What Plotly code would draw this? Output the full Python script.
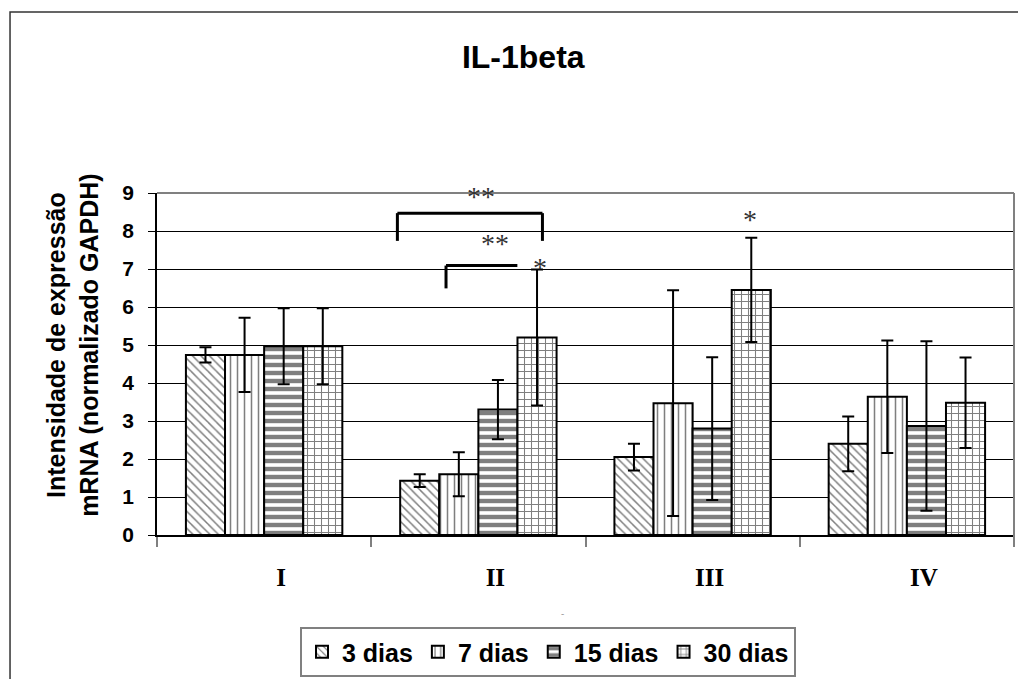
import plotly.graph_objects as go

categories = ["I", "II", "III", "IV"]
series_names = ["3 dias", "7 dias", "15 dias", "30 dias"]
values = [
    [4.74, 1.43, 2.05, 2.40],   # 3 dias
    [4.74, 1.60, 3.47, 3.64],   # 7 dias
    [4.97, 3.30, 2.80, 2.87],   # 15 dias
    [4.97, 5.20, 6.45, 3.48],   # 30 dias
]
errors = [
    [0.20, 0.17, 0.35, 0.72],
    [0.98, 0.58, 2.97, 1.48],
    [1.00, 0.78, 1.88, 2.23],
    [1.00, 1.79, 1.37, 1.19],
]
patterns = ["\\", "|", "-", "+"]
pattern_sizes = [6, 7, 8, 7]
pattern_solidity = [0.25, 0.22, 0.55, 0.28]

# significance markers (x as category index, y in data units)
star_texts = ["**", "**", "*", "*"]
star_x = [1.014, 1.079, 1.289, 2.266]
star_y = [8.91, 7.67, 7.04, 8.30]

# brackets: list of polylines (x index, y value)
brackets = [
    [(0.622, 7.74), (0.622, 8.47), (1.299, 8.47), (1.299, 7.74)],
    [(0.849, 6.49), (0.849, 7.09), (1.182, 7.09)],
]

fig = go.Figure()
for i, name in enumerate(series_names):
    fig.add_trace(go.Bar(
        name=name,
        x=categories,
        y=values[i],
        error_y=dict(type="data", array=errors[i], visible=True,
                     color="black", thickness=2, width=6),
        marker=dict(
            color="white",
            line=dict(color="black", width=2),
            pattern=dict(shape=patterns[i], size=pattern_sizes[i],
                         solidity=pattern_solidity[i],
                         fgcolor="black", bgcolor="white"),
        ),
    ))

shapes = []
for br in brackets:
    for (xa, ya), (xb, yb) in zip(br[:-1], br[1:]):
        shapes.append(dict(type="line", xref="x", yref="y",
                           x0=xa, y0=ya, x1=xb, y1=yb,
                           line=dict(color="black", width=3)))
# gray plot-area border top and right
shapes.append(dict(type="line", xref="paper", yref="paper", x0=0, y0=1, x1=1, y1=1,
                   line=dict(color="#808080", width=2)))
shapes.append(dict(type="line", xref="paper", yref="paper", x0=1, y0=-0.025, x1=1, y1=1,
                   line=dict(color="#808080", width=2)))
# outer chart frame
shapes.append(dict(type="rect", xref="paper", yref="paper",
                   x0=-0.1715, y0=-0.6, x1=1.1, y1=1.529,
                   line=dict(color="#333333", width=1.5)))

annotations = []
for t, xx, yy in zip(star_texts, star_x, star_y):
    annotations.append(dict(text=t, x=xx, y=yy, xref="x", yref="y", showarrow=False,
                            xanchor="center", yanchor="middle",
                            font=dict(family="Times New Roman, Liberation Serif, serif",
                                      size=28, color="#333333")))
annotations.append(dict(text="Intensidade de expressão<br>mRNA (normalizado GAPDH)",
                        x=-0.098, y=0.556, xref="paper", yref="paper", showarrow=False,
                        textangle=-90, xanchor="center", yanchor="middle",
                        font=dict(family="Arial, Liberation Sans, sans-serif",
                                  size=25, color="black", weight="bold")))
annotations.append(dict(text="-", x=0.473, y=-0.255, xref="paper", yref="paper",
                        showarrow=False, font=dict(size=10, color="#999999")))

fig.update_layout(
    width=1018, height=679,
    margin=dict(l=157, r=4, t=193, b=144, autoexpand=False),
    paper_bgcolor="white", plot_bgcolor="white",
    barmode="group", bargap=0.27, bargroupgap=0,
    title=dict(text="IL-1beta", x=0.514, xref="container", y=1 - 57 / 679,
               yref="container", xanchor="center", yanchor="middle",
               font=dict(family="Arial, Liberation Sans, sans-serif", size=32,
                         color="black", weight="bold")),
    xaxis=dict(
        showline=True, linecolor="black", linewidth=1.5,
        ticks="outside", tickson="boundaries", ticklen=10, tickcolor="#808080",
        tickwidth=1.5, showgrid=False,
        ticklabelshift=17, ticklabelstandoff=19,
        tickfont=dict(family="Times New Roman, Liberation Serif, serif", size=25,
                      color="black", weight="bold"),
    ),
    yaxis=dict(
        range=[0, 9], dtick=1, showline=True, linecolor="black", linewidth=1.5,
        ticks="outside", ticklen=7, tickcolor="black",
        showgrid=True, gridcolor="black", gridwidth=1, zeroline=False,
        ticklabelstandoff=10,
        tickfont=dict(family="Arial, Liberation Sans, sans-serif", size=21,
                      color="black", weight="bold"),
    ),
    legend=dict(orientation="h", x=300 / 1018, y=1 - 627 / 679,
                xref="container", yref="container",
                xanchor="left", yanchor="top",
                bordercolor="#808080", borderwidth=2, bgcolor="white",
                tracegroupgap=0, itemwidth=30,
                font=dict(family="Arial, Liberation Sans, sans-serif", size=25,
                          color="black", weight="bold")),
    shapes=shapes,
    annotations=annotations,
    showlegend=True,
)

fig.write_html("out.html",
               config={"displayModeBar": False},
               post_script="document.body.style.margin='0';document.body.style.overflow='hidden';")
